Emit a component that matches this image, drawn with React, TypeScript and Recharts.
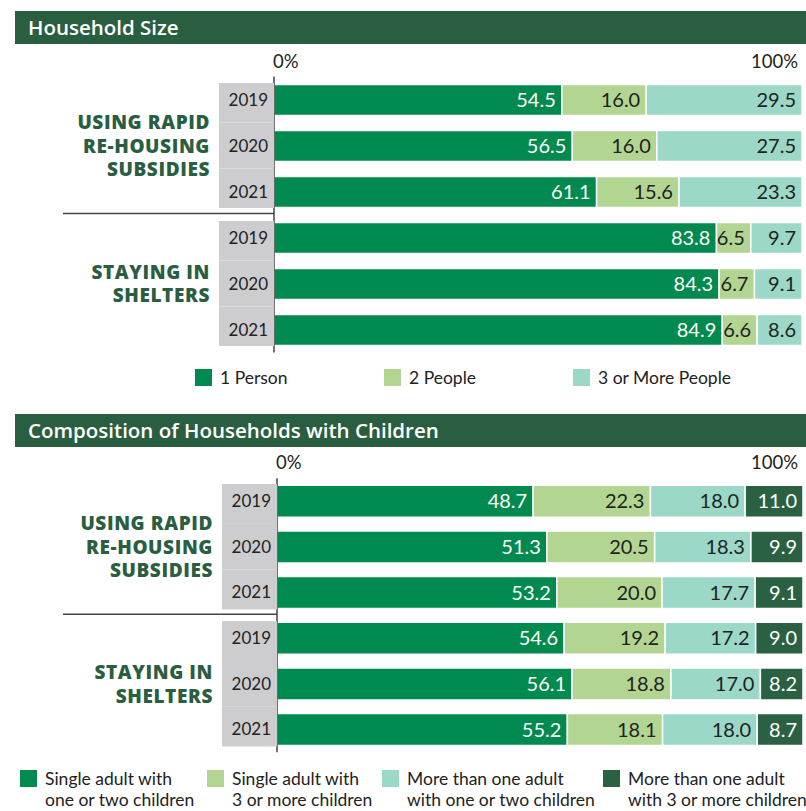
import React from 'react';
import { BarChart, Bar, XAxis, YAxis, LabelList } from 'recharts';

// ---- data ----
const years = ['2019', '2020', '2021'];
const groupNames = ['rrh', 'shelter'];
const groupLines = [
  ['USING RAPID', 'RE-HOUSING', 'SUBSIDIES'],
  ['STAYING IN', 'SHELTERS'],
];
const xTicks = [0, 100];

// Household Size
const onePerson = [54.5, 56.5, 61.1, 83.8, 84.3, 84.9];
const twoPeople = [16.0, 16.0, 15.6, 6.5, 6.7, 6.6];
const threePlusPeople = [29.5, 27.5, 23.3, 9.7, 9.1, 8.6];

// Composition of Households with Children
const singleOneTwo = [48.7, 51.3, 53.2, 54.6, 56.1, 55.2];
const singleThreePlus = [22.3, 20.5, 20.0, 19.2, 18.8, 18.1];
const multiOneTwo = [18.0, 18.3, 17.7, 17.2, 17.0, 18.0];
const multiThreePlus = [11.0, 9.9, 9.1, 9.0, 8.2, 8.7];

const sizeLabels = ['1 Person', '2 People', '3 or More People'];
const compLabels = [
  ['Single adult with', 'one or two children'],
  ['Single adult with', '3 or more children'],
  ['More than one adult', 'with one or two children'],
  ['More than one adult', 'with 3 or more children'],
];

const C_DARK = '#008a4f';
const C_LIGHT = '#b2d692';
const C_TEAL = '#9bd8c8';
const C_DEEP = '#2a6142';
const HEADER = '#2a5e41';
const FONT = 'Lato, "Open Sans", sans-serif';
const WIDE = '"Open Sans", Lato, sans-serif';

const buildRows = (series: number[][]) =>
  groupNames.flatMap((g, gi) =>
    years.map((y, yi) => {
      const i = gi * 3 + yi;
      const row: any = { key: `${g}-${y}`, year: y, idx: i };
      series.forEach((s, si) => (row[`s${si}`] = s[i]));
      return row;
    })
  );

const sizeRows = buildRows([onePerson, twoPeople, threePlusPeople]);
const compRows = buildRows([singleOneTwo, singleThreePlus, multiOneTwo, multiThreePlus]);

const fmt = (v: any) => Number(v).toFixed(1);

const makeYTick = (axisX: number, band: number, barH: number) => (props: any) => {
  const { y, index } = props;
  const pos = index % 3;
  const gi = Math.floor(index / 3);
  const top = pos === 0 ? y - barH / 2 - 1 : y - band / 2;
  const bottom = pos === 2 ? y + barH / 2 + 1 : y + band / 2;
  const lines = groupLines[gi];
  return (
    <g>
      <rect x={axisX - 55} y={top} width={55} height={bottom - top} fill="#cdcdcf" />
      <text x={axisX - 6} y={y} dy={6} textAnchor="end" fontSize={17} fill="#222" fontFamily={FONT}>
        {years[pos]}
      </text>
      {pos === 1 &&
        lines.map((l, li) => (
          <text key={li} x={axisX - 64} y={y + 7 + (li - (lines.length - 1) / 2) * 23.5}
            textAnchor="end" fontSize={19} fontWeight={800} fill={HEADER} fontFamily={WIDE} letterSpacing={0.6}>
            {l}
          </text>
        ))}
      {index === 2 && (
        <line x1={63} x2={axisX} y1={y + band / 2 - 1} y2={y + band / 2 - 1} stroke="#444" strokeWidth={1.5} />
      )}
    </g>
  );
};

const XTick = (props: any) => {
  const { x, y, payload } = props;
  const isZero = payload.value === 0;
  return (
    <text x={x} dx={isZero ? -1 : 4} y={y - 7} textAnchor={isZero ? 'start' : 'end'} fontSize={18.5} fill="#222" fontFamily={FONT}>
      {payload.value}%
    </text>
  );
};

const labelProps = (fill: string) => ({
  position: 'insideRight' as const,
  offset: 6,
  fill,
  fontSize: 20,
  fontFamily: FONT,
  formatter: fmt,
});

const Header: React.FC<{ top: number; title: string }> = ({ top, title }) => (
  <div
    style={{
      position: 'absolute', left: 15, top, width: 791, height: 33, background: HEADER,
      color: '#fff', fontFamily: WIDE, fontWeight: 600, fontSize: 20.5, lineHeight: '33px', paddingLeft: 13,
      boxSizing: 'border-box',
    }}
  >
    {title}
  </div>
);

const Swatch: React.FC<{ color: string }> = ({ color }) => (
  <span style={{ display: 'inline-block', width: 17, height: 17, background: color, marginRight: 8, flexShrink: 0 }} />
);

export default function App() {
  const sizeColors = [C_DARK, C_LIGHT, C_TEAL];
  const compColors = [C_DARK, C_LIGHT, C_TEAL, C_DEEP];
  const sizeText = ['#fff', '#222', '#222'];
  const compText = ['#fff', '#222', '#222', '#fff'];

  return (
    <div style={{ position: 'absolute', left: 0, top: 0, width: 806, height: 811, background: '#fff', overflow: 'hidden' }}>
      <Header top={11} title="Household Size" />
      <div style={{ position: 'absolute', left: 0, top: 0 }}>
        <BarChart
          width={806}
          height={360}
          data={sizeRows}
          layout="vertical"
          margin={{ top: 46.5, right: 4, bottom: 7.5, left: 0 }}
          barSize={31}
        >
          <XAxis type="number" orientation="top" domain={[0, 100]} allowDataOverflow ticks={xTicks}
            height={30} axisLine={false} tickLine={false} tickSize={0} tick={XTick} />
          <YAxis type="category" dataKey="key" width={274} axisLine={{ stroke: '#444', strokeWidth: 1.5 }}
            tickLine={false} tickSize={0} tick={makeYTick(274, 46, 31)} interval={0} />
          {sizeColors.map((c, i) => (
            <Bar key={i} dataKey={`s${i}`} stackId="a" fill={c} stroke="#fff" strokeWidth={1.5} isAnimationActive={false}>
              <LabelList dataKey={`s${i}`} {...labelProps(sizeText[i])} />
            </Bar>
          ))}
        </BarChart>
      </div>
      <div style={{ position: 'absolute', top: 368, left: 195, display: 'flex', fontFamily: FONT, fontSize: 17.5, color: '#222' }}>
        {sizeLabels.map((l, i) => (
          <div key={l} style={{ width: 189, display: 'flex', alignItems: 'center', height: 19 }}>
            <Swatch color={sizeColors[i]} />
            {l}
          </div>
        ))}
      </div>

      <Header top={414} title="Composition of Households with Children" />
      <div style={{ position: 'absolute', left: 0, top: 400 }}>
        <BarChart
          width={806}
          height={360}
          data={compRows}
          layout="vertical"
          margin={{ top: 48.2, right: 3, bottom: 7.7, left: 0 }}
          barSize={32}
        >
          <XAxis type="number" orientation="top" domain={[0, 100]} allowDataOverflow ticks={xTicks}
            height={30} axisLine={false} tickLine={false} tickSize={0} tick={XTick} />
          <YAxis type="category" dataKey="key" width={277} axisLine={{ stroke: '#444', strokeWidth: 1.5 }}
            tickLine={false} tickSize={0} tick={makeYTick(277, 45.7, 32)} interval={0} />
          {compColors.map((c, i) => (
            <Bar key={i} dataKey={`s${i}`} stackId="a" fill={c} stroke="#fff" strokeWidth={1.5} isAnimationActive={false}>
              <LabelList dataKey={`s${i}`} {...labelProps(compText[i])} />
            </Bar>
          ))}
        </BarChart>
      </div>
      <div style={{ position: 'absolute', top: 770, left: 20, display: 'flex', fontFamily: FONT, fontSize: 17.5, color: '#222', lineHeight: '21px' }}>
        {compLabels.map((l, i) => (
          <div key={i} style={{ width: [187, 175, 221, 200][i], display: 'flex', alignItems: 'flex-start', whiteSpace: 'nowrap' }}>
            <Swatch color={compColors[i]} />
            <div style={{ marginTop: -2 }}>
              {l[0]}
              <br />
              {l[1]}
            </div>
          </div>
        ))}
      </div>
    </div>
  );
}
